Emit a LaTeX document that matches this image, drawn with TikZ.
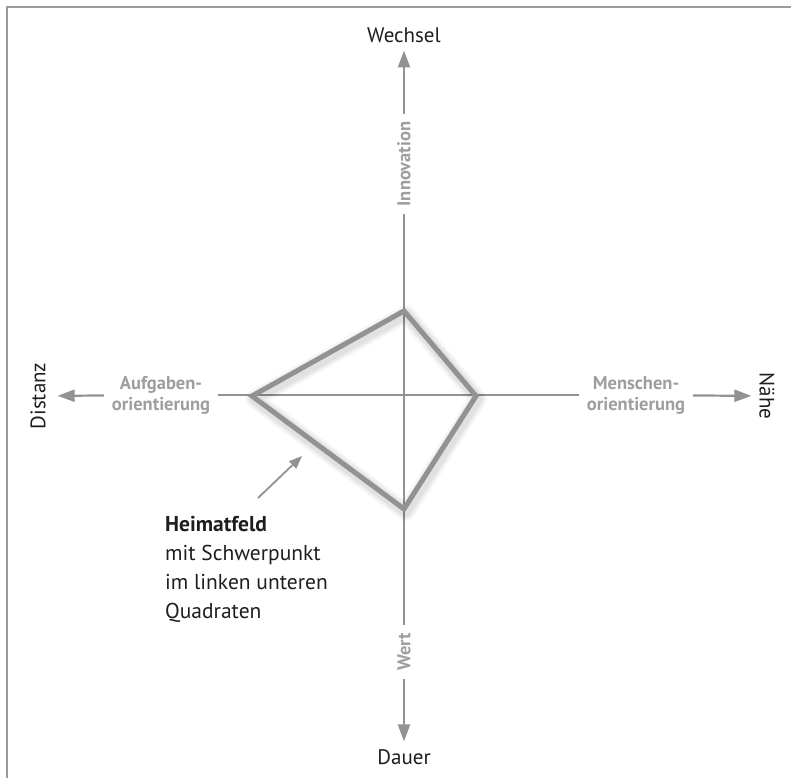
\documentclass[tikz,border=0pt]{standalone}
\usepackage{fontspec}
\setmainfont{PT Sans}
\usetikzlibrary{arrows.meta,positioning}
\definecolor{axisgray}{RGB}{146,146,149}
\definecolor{labelgray}{RGB}{158,158,160}
\definecolor{framegray}{RGB}{155,155,157}
\definecolor{textdark}{RGB}{30,30,32}

\begin{document}
\begin{tikzpicture}[x=1pt,y=-1pt,
  axis/.style={draw=axisgray,line width=2.2pt},
  axisarrow/.style={axis,-{Triangle[length=17pt,width=12pt]}},
  pole/.style={font=\fontsize{21}{25}\selectfont,text=textdark,inner sep=0pt,outer sep=8pt},
  dimlabel/.style={font=\fontsize{18.5}{21}\selectfont\bfseries,text=labelgray,align=center,inner sep=0pt,outer sep=8pt},
  kite/.style={draw=axisgray,line width=5pt,line join=miter},
  pointer/.style={draw=axisgray,line width=1.8pt,-{Triangle[length=13pt,width=10pt]}},
  note/.style={font=\fontsize{21.5}{29}\selectfont,text=textdark,align=left,inner sep=0pt}]
\useasboundingbox (0,0) rectangle (791,778);
\draw[framegray,line width=2pt] (6.5,778) -- (6.5,7.5) -- (791,7.5);

% Pole
\node[pole] (wechsel) at (404,35) {Wechsel};
\node[pole] (dauer) at (404,757) {Dauer};
\node[pole,rotate=90,outer sep=12pt] (distanz) at (38,396) {Distanz};
\node[pole,rotate=-90] (naehe) at (767,396) {Nähe};

% Dimensionen
\node[dimlabel,rotate=90] (innovation) at (404,164) {Innovation};
\node[dimlabel,rotate=90] (wert) at (404,652) {Wert};
\node[dimlabel] (aufgaben) at (161,395) {Aufgaben-\\orientierung};
\node[dimlabel] (menschen) at (636,395) {Menschen-\\orientierung};

\draw[axis] (innovation) -- (wert);
\draw[axis] (aufgaben) -- (menschen);
\draw[axisarrow] (innovation) -- (wechsel);
\draw[axisarrow] (wert) -- (dauer);
\draw[axisarrow] (aufgaben) -- (distanz);
\draw[axisarrow] (menschen) -- (naehe);

% Heimatfeld
\coordinate (k-left) at (252,396);
\coordinate (k-top) at (404,311);
\coordinate (k-right) at (476,396);
\coordinate (k-bottom) at (404,509);
\foreach \w/\o in {18/0.03,14/0.04,10/0.05}{
  \draw[line width=\w pt,draw=black,opacity=\o,line join=round,
    transform canvas={xshift=2pt,yshift=-3pt}]
    (k-left) -- (k-top) -- (k-right) -- (k-bottom) -- cycle;
}
\draw[kite] (k-left) -- (k-top) -- (k-right) -- (k-bottom) -- cycle;

\node[note,anchor=north west] (heimatfeld) at (165,516)
  {\textbf{Heimatfeld}\\mit Schwerpunkt\\im linken unteren\\Quadraten};
\coordinate (p-tail) at (258,498);
\coordinate (p-tip) at (302,456);
\draw[pointer] (p-tail) -- (p-tip);
\end{tikzpicture}
\end{document}
